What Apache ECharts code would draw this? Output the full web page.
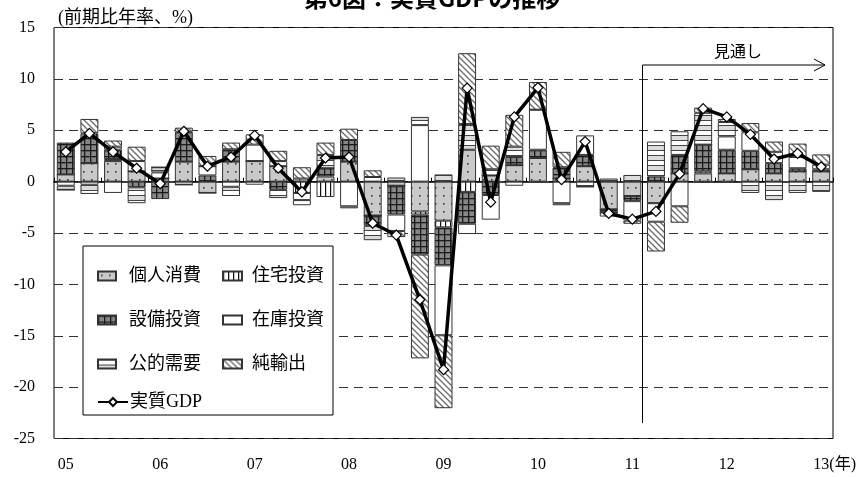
<!DOCTYPE html>
<html><head><meta charset="utf-8">
<script src="https://cdn.jsdelivr.net/npm/echarts@6/dist/echarts.min.js"></script>
<style>html,body{margin:0;padding:0;background:#fff}#c{width:864px;height:477px}</style>
</head><body><div id="c"></div>
<script>
// ---- data ----
const categories = ['05Q1','05Q2','05Q3','05Q4','06Q1','06Q2','06Q3','06Q4','07Q1','07Q2','07Q3','07Q4',
  '08Q1','08Q2','08Q3','08Q4','09Q1','09Q2','09Q3','09Q4','10Q1','10Q2','10Q3','10Q4',
  '11Q1','11Q2','11Q3','11Q4','12Q1','12Q2','12Q3','12Q4','13Q1'];
const yearLabels = ['05','06','07','08','09','10','11','12','13(年)'];
const consumption = [0.7,1.8,2.0,1.0,0.3,1.95,-1.1,1.95,2.0,1.5,0.3,0.5,1.95,-3.3,-0.4,-2.9,-3.8,3.1,0.6,1.6,2.3,0.3,1.5,-2.7,-1.4,-2.1,0.8,0.8,0.8,1.2,0.8,1.0,1.0];
const housing = [0,0,0.2,0,0,0,0,0,0,0,-1.1,-1.5,0,0,0,-0.3,-0.65,-1.0,0,0,0,0,0,0,0,0,0,0.2,0,0,0,0,0];
const capex = [3.1,2.9,0.9,-0.55,-1.7,2.9,0.6,1.2,0,-0.8,0,0.8,2.1,-1.0,-2.8,-3.9,-3.7,-3.1,-1.3,0.8,0.8,1.1,1.1,-0.3,-0.5,0.5,1.8,2.6,2.3,1.8,1.0,0.3,0.2];
const inventory = [-0.4,-0.3,-1.1,1.0,0.6,-0.3,0.9,-0.5,1.6,0.5,-0.7,0,-2.4,0.45,-1.6,5.5,-6.8,-1.0,-2.4,-0.4,3.9,-2.1,1.9,0,-1.9,-1.8,-2.4,0,1.3,1.8,1.1,1.1,0.45];
const publicDemand = [-0.4,-0.9,0.3,-1.55,0.5,0,0,-0.9,-0.3,-0.8,-0.5,1.3,-0.2,-1.4,0.4,0.8,0.7,2.5,0.6,1.0,0,-0.2,-0.5,0.3,0.65,3.4,2.3,3.1,1.4,-1.1,-1.8,-1.1,-1.0];
const netExports = [0,1.4,0.6,1.4,0,0.4,1.0,0.65,1.0,1.0,1.1,1.2,1.1,0.65,-0.6,-10.1,-7.1,6.9,2.3,3.1,2.7,1.5,0,-0.4,-0.3,-2.9,-1.6,0.5,0.3,0.9,1.0,1.3,1.0];
const realGDP = [2.9,4.7,2.9,1.3,-0.2,4.9,1.5,2.4,4.5,1.3,-1.0,2.3,2.4,-4.05,-5.2,-11.5,-18.3,9.1,-2.0,6.3,9.15,0.2,3.9,-3.1,-3.65,-2.9,0.75,7.1,6.3,4.6,2.2,2.75,1.45];
const yMin = -25, yMax = 15, yStep = 5;

// ---- patterns ----
function pat(w, h, draw) {
  const c = document.createElement('canvas'); c.width = w; c.height = h;
  const g = c.getContext('2d'); draw(g, w, h);
  return { image: c, repeat: 'repeat' };
}
const pDots = pat(8, 8, (g,w,h) => { g.fillStyle='#c9c9c9'; g.fillRect(0,0,w,h); g.fillStyle='#3a3a3a'; g.fillRect(3,3,1.6,1.6); });
const pVert = pat(5, 4, (g,w,h) => { g.fillStyle='#fff'; g.fillRect(0,0,w,h); g.fillStyle='#111'; g.fillRect(0,0,1.2,h); });
const pGrid = pat(6, 6, (g,w,h) => { g.fillStyle='#878787'; g.fillRect(0,0,w,h); g.fillStyle='#1a1a1a'; g.fillRect(0,0,1.3,h); g.fillRect(0,0,w,1.3); });
const pWhite = '#ffffff';
const pHoriz = pat(4, 10, (g,w,h) => { g.fillStyle='#fff'; g.fillRect(0,0,w,h); g.fillStyle='#dcdcdc'; g.fillRect(0,6,w,4); g.fillStyle='#444'; g.fillRect(0,0,w,1); g.fillRect(0,5,w,1); });
const pHatch = pat(6, 6, (g,w,h) => { g.fillStyle='#fff'; g.fillRect(0,0,w,h); g.strokeStyle='#6a6a6a'; g.lineWidth=1.3;
  g.beginPath(); g.moveTo(-1,-1); g.lineTo(w+1,h+1); g.moveTo(-1,h-1); g.lineTo(1,h+1); g.moveTo(w-1,-1); g.lineTo(w+1,1); g.stroke(); });

const serif = "'Liberation Serif', 'Noto Sans CJK JP', serif";
const sans = "'Noto Sans CJK JP', 'Noto Sans', sans-serif";

function bar(name, data, color) {
  return { name, type: 'bar', stack: 'gdp', data, barWidth: '76%', z: 2,
    itemStyle: { color, borderColor: '#333', borderWidth: 1 }, emphasis: { disabled: true } };
}

const chart = echarts.init(document.getElementById('c'), null, { renderer: 'canvas' });
const option = {
  animation: false,
  backgroundColor: '#fff',
  title: [
    { text: '第6図：実質GDPの推移', left: 'center', top: -19,
      textStyle: { fontSize: 24, fontWeight: 'bold', fontFamily: sans, color: '#000' } },
    { text: '(前期比年率、%)', left: 53, top: 4,
      textStyle: { fontSize: 18, fontWeight: 'normal', fontFamily: serif, color: '#000' } }
  ],
  grid: { left: 54, right: 31, top: 27.5, bottom: 38.5, show: true, borderColor: '#000', borderWidth: 1, backgroundColor: 'transparent' },
  legend: [
    { data: ['個人消費','設備投資','公的需要'], orient: 'vertical', left: 92, top: 262, itemGap: 26,
      icon: 'rect', itemWidth: 18, itemHeight: 9, z: 10,
      textStyle: { fontSize: 18, fontFamily: serif, color: '#000', padding: [0,0,0,8] } },
    { data: ['住宅投資','在庫投資','純輸出'], orient: 'vertical', left: 217, top: 262, itemGap: 26,
      icon: 'rect', itemWidth: 19, itemHeight: 9, z: 10,
      textStyle: { fontSize: 18, fontFamily: serif, color: '#000', padding: [0,0,0,5] } },
    { data: ['実質GDP'], left: 92, top: 388, itemWidth: 30, itemHeight: 10, z: 10,
      textStyle: { fontSize: 18, fontFamily: serif, color: '#000', padding: [0,0,0,-3] } }
  ],
  xAxis: [
    { type: 'category', data: categories, position: 'bottom',
      axisLine: { show: false, onZero: false }, axisTick: { show: false }, splitLine: { show: false },
      axisLabel: { interval: 3, margin: 18, color: '#000', fontSize: 16, fontFamily: serif,
        formatter: (v, i) => {
          const t = yearLabels[Math.round(i / 4)] || '';
          const k = t.indexOf('(');
          if (k < 0) return t;
          return '{p|}' + t.slice(0, k) + '{u|' + t.slice(k) + '}';
        },
        rich: { p: { width: 27 }, u: { fontSize: 16, fontFamily: serif, color: '#000' } } } },
    { type: 'category', data: categories, position: 'bottom',
      axisLine: { show: true, onZero: true, lineStyle: { color: '#000', width: 1.5 } },
      axisTick: { show: true, inside: true, length: 4, lineStyle: { color: '#000', width: 1 } },
      axisLabel: { show: false }, splitLine: { show: false } }
  ],
  yAxis: { type: 'value', min: yMin, max: yMax, interval: yStep,
    axisLine: { show: false }, axisTick: { show: false },
    axisLabel: { margin: 19, color: '#000', fontSize: 16, fontFamily: serif },
    splitLine: { show: true, lineStyle: { color: '#333', type: [9, 6], width: 1 } } },
  series: [
    bar('個人消費', consumption, pDots),
    bar('住宅投資', housing, pVert),
    bar('設備投資', capex, pGrid),
    bar('在庫投資', inventory, pWhite),
    bar('公的需要', publicDemand, pHoriz),
    bar('純輸出', netExports, pHatch),
    { name: '実質GDP', type: 'line', data: realGDP, z: 5,
      lineStyle: { color: '#000', width: 3.5 },
      symbol: 'diamond', symbolSize: 10, showAllSymbol: true,
      itemStyle: { color: '#fff', borderColor: '#000', borderWidth: 1.2 },
      emphasis: { disabled: true } }
  ]
};
chart.setOption(option);

// forecast divider: between 11Q1 and 11Q2
const xa = chart.convertToPixel({ xAxisIndex: 0 }, '11Q1');
const xb = chart.convertToPixel({ xAxisIndex: 0 }, '11Q2');
const xd = Math.round((xa + xb) / 2) - 1.5;
const yTop = 65, yBot = 423, xArrow = 825;
chart.setOption({
  graphic: [
    { type: 'rect', z: 6, shape: { x: 83, y: 246, width: 250, height: 169 },
      style: { fill: '#fff', stroke: '#000', lineWidth: 1 } },
    { type: 'line', z: 6, shape: { x1: xd, y1: yTop, x2: xd, y2: yBot }, style: { stroke: '#000', lineWidth: 1 } },
    { type: 'line', z: 6, shape: { x1: xd, y1: yTop, x2: xArrow, y2: yTop }, style: { stroke: '#000', lineWidth: 1 } },
    { type: 'polyline', z: 6, shape: { points: [[xArrow - 11, yTop - 6], [xArrow, yTop], [xArrow - 11, yTop + 6]] },
      style: { stroke: '#000', lineWidth: 1, fill: null } },
    { type: 'text', z: 6, x: 738, y: 51, style: { text: '見通し', font: "16px 'Noto Sans CJK JP'", fill: '#000', align: 'center', verticalAlign: 'middle' } }
  ]
});
</script>
</body></html>
